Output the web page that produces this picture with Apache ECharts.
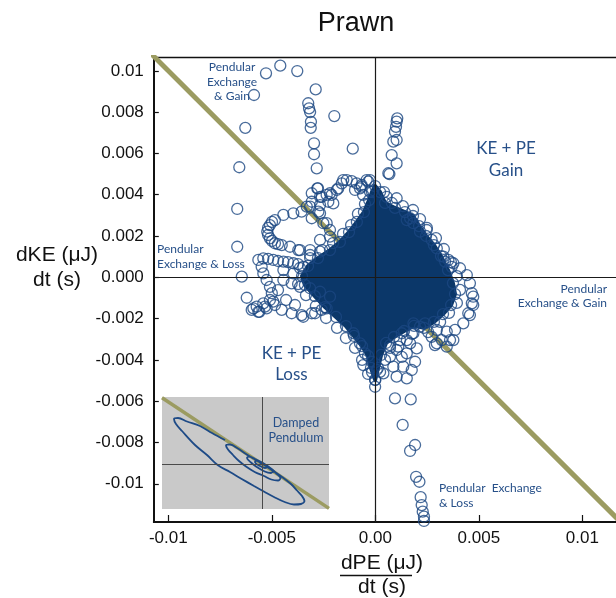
<!DOCTYPE html>
<html><head><meta charset="utf-8">
<script src="https://cdn.jsdelivr.net/npm/echarts@6/dist/echarts.min.js"></script>
<style>html,body{margin:0;padding:0;background:#fff}#c{width:616px;height:598px}</style>
</head><body><div id="c"></div><script>
// ---- tick labels ----
const xTickValues = [-0.01, -0.005, 0, 0.005, 0.01];
const xTickLabels = ['-0.01', '-0.005', '0.00', '0.005', '0.01'];
const yTickValues = [0.01, 0.008, 0.006, 0.004, 0.002, 0, -0.002, -0.004, -0.006, -0.008, -0.01];
const yTickLabels = ['0.01', '0.008', '0.006', '0.004', '0.002', '0.000', '-0.002', '-0.004', '-0.006', '-0.008', '-0.01'];

// ---- main data: [dPE/dt, dKE/dt] ----
const sparsePoints = [
  [-0.00528,0.00988],[-0.00459,0.01025],[-0.00377,0.00999],[-0.00586,0.00883],[-0.00288,0.00910],[-0.00324,0.00843],
  [-0.00320,0.00818],[-0.00315,0.00800],[-0.00311,0.00753],[-0.00312,0.00724],[-0.00198,0.00781],[-0.00628,0.00724],
  [-0.00296,0.00649],[-0.00296,0.00596],[-0.00109,0.00623],[-0.00283,0.00528],[-0.00657,0.00533],[-0.00280,0.00431],
  [-0.00667,0.00331],[-0.00667,0.00148],[-0.00645,0.00003],[-0.00621,-0.00099],[-0.00589,-0.00150],[-0.00560,-0.00167],[-0.00525,-0.00150],
  [0.00087,0.00657],[0.00079,0.00592],[0.00103,0.00552],[0.00063,0.00504],[0.00103,0.00383],
  [0.00106,0.00770],[0.00103,0.00754],[0.00100,0.00729],[0.00095,0.00705],[0.00103,0.00665],[0.00068,0.00500],[0.00055,0.00390],
  [-0.00026,0.00471],[-0.00066,0.00447]
];
const upperLeftLoops = [
  [-0.00211,0.00399],[-0.00186,0.00423],[-0.00162,0.00455],[-0.00138,0.00471],[-0.00114,0.00466],[-0.00090,0.00455],
  [-0.00066,0.00439],[-0.00034,0.00463],[-0.00026,0.00415],[-0.00059,0.00399],[-0.00098,0.00423],[-0.00277,0.00431],
  [-0.00259,0.00390],[-0.00227,0.00366],[-0.00307,0.00366],[-0.00155,0.00471],[-0.00074,0.00431],[-0.00179,0.00431],
  [-0.00219,0.00407],[-0.00267,0.00390],[-0.00307,0.00407],[-0.00267,0.00350],[-0.00203,0.00358],[-0.00235,0.00399],[-0.00042,0.00471],
  [-0.00315,0.00342],[-0.00267,0.00310],[-0.00235,0.00262],[-0.00219,0.00229],[-0.00331,0.00342],[-0.00356,0.00318],
  [-0.00396,0.00310],[-0.00444,0.00302],[-0.00485,0.00277],[-0.00509,0.00253],[-0.00522,0.00221],[-0.00509,0.00189],
  [-0.00485,0.00165],[-0.00452,0.00156],[-0.00412,0.00148],[-0.00364,0.00132],[-0.00315,0.00108],[-0.00267,0.00124],
  [-0.00499,0.00268],[-0.00518,0.00239],[-0.00518,0.00205],[-0.00499,0.00176],[-0.00470,0.00161],[-0.00275,0.00318],
  [-0.00307,0.00286],[-0.00251,0.00262],[-0.00219,0.00197],[-0.00267,0.00181],[-0.00315,0.00132],[-0.00372,0.00132]
];
const lowerLeftLoops = [
  [-0.00565,0.00084],[-0.00541,0.00092],[-0.00518,0.00089],[-0.00493,0.00084],[-0.00470,0.00079],[-0.00444,0.00076],
  [-0.00422,0.00074],[-0.00396,0.00068],[-0.00373,0.00064],[-0.00348,0.00051],[-0.00549,0.00051],[-0.00541,0.00019],
  [-0.00525,-0.00013],[-0.00509,-0.00046],[-0.00500,-0.00077],[-0.00509,-0.00110],[-0.00541,-0.00126],[-0.00573,-0.00142],
  [-0.00597,-0.00158],[-0.00565,-0.00167],[-0.00533,-0.00142],[-0.00485,-0.00134],[-0.00452,-0.00158],[-0.00404,-0.00174],
  [-0.00356,-0.00183],[-0.00307,-0.00174],[-0.00259,-0.00158],[-0.00444,-0.00013],[-0.00404,-0.00029],[-0.00364,-0.00046],
  [-0.00315,-0.00053],[-0.00267,-0.00070],[-0.00219,-0.00094],[-0.00396,0.00019],[-0.00444,0.00035],[-0.00493,-0.00118],
  [-0.00348,-0.00191],[-0.00291,-0.00174],[-0.00235,-0.00150],[-0.00431,-0.00110],[-0.00388,-0.00134],[-0.00470,-0.00062]
];
const rightLoops = [
  [0.00337,0.00076],[0.00377,0.00068],[0.00409,0.00044],[0.00442,0.00011],[0.00457,-0.00029],[0.00466,-0.00077],
  [0.00466,-0.00126],[0.00449,-0.00174],[0.00329,0.00100],[0.00353,0.00084],[0.00473,-0.00094],[0.00473,-0.00134],
  [0.00457,-0.00183],[0.00425,-0.00223],[0.00385,-0.00255],[0.00345,-0.00263],[0.00297,-0.00255],[0.00361,-0.00304],
  [0.00345,-0.00336],[0.00297,-0.00320],[0.00272,-0.00288],[0.00240,-0.00223],[0.00216,-0.00239],[0.00184,-0.00271],
  [0.00168,-0.00320],[0.00152,-0.00368],[0.00135,-0.00433],[0.00152,-0.00489],[0.00103,-0.00481],[0.00087,-0.00433],
  [0.00128,-0.00385],[0.00200,-0.00344],[0.00192,-0.00409],[0.00176,-0.00449],[0.00071,-0.00385],[0.00103,-0.00352],
  [0.00039,-0.00465],[-0.00001,-0.00530],[0.00000,-0.00497],[-0.00016,-0.00459],[-0.00106,-0.00271],[-0.00074,-0.00320],
  [-0.00050,-0.00368],[-0.00058,-0.00425],[-0.00017,-0.00409],[0.00007,-0.00449],[0.00321,-0.00304],[0.00377,-0.00304],
  [0.00288,-0.00328],[0.00152,-0.00304],[0.00111,-0.00336],[0.00071,-0.00328],[0.00128,-0.00271],[0.00184,-0.00223],
  [0.00369,0.00051],[0.00248,0.00229],[0.00272,0.00181],[0.00297,0.00140],[0.00168,0.00286],[0.00152,0.00277],
  [0.00184,0.00262],[0.00216,0.00221]
];
const lowerColumn = [
  [0.00095,-0.00586],[0.00171,-0.00591],[0.00132,-0.00715],[0.00192,-0.00812],[0.00168,-0.00841],[0.00197,-0.00966],
  [0.00213,-0.00990],[0.00219,-0.01065],[0.00224,-0.01103],[0.00229,-0.01135],[0.00235,-0.01159],[0.00235,-0.01180]
];
// points ringing the dense core
const coreRing = [
  [-0.00364,0.00045],[-0.00315,0.00093],[-0.00257,0.00132],[-0.00204,0.00166],[-0.00156,0.00210],[-0.00117,0.00253],
  [-0.00084,0.00307],[-0.00050,0.00355],
  [0.00042,0.00413],[0.00080,0.00360],[0.00133,0.00345],[0.00182,0.00326],[0.00216,0.00282],[0.00249,0.00239],
  [0.00293,0.00190],[0.00331,0.00137],[0.00365,0.00074],[0.00394,0.00006],[0.00409,-0.00061],[0.00394,-0.00124],
  [0.00356,-0.00172],[0.00313,-0.00216],[0.00255,-0.00265],
  [0.00177,-0.00274],[0.00119,-0.00304],[0.00071,-0.00342],[0.00047,-0.00400],[0.00023,-0.00458],[-0.00035,-0.00468],
  [-0.00064,-0.00400],[-0.00098,-0.00342],[-0.00142,-0.00294],[-0.00185,-0.00245],[-0.00238,-0.00197],[-0.00287,-0.00139],
  [-0.00335,-0.00086],[-0.00373,-0.00033]
];
// outline of the dense, fully overlapped core of points
const denseCoreOutline = [
  [-0.00001,0.00442],[0.00023,0.00413],[0.00047,0.00360],[0.00095,0.00336],[0.00143,0.00316],[0.00182,0.00297],
  [0.00211,0.00248],[0.00245,0.00200],[0.00283,0.00156],[0.00317,0.00103],[0.00351,0.00035],[0.00375,-0.00028],
  [0.00385,-0.00081],[0.00366,-0.00134],[0.00327,-0.00178],[0.00283,-0.00216],[0.00235,-0.00245],[0.00187,-0.00235],
  [0.00139,-0.00260],[0.00090,-0.00289],[0.00052,-0.00318],[0.00028,-0.00376],[0.00013,-0.00439],[-0.00001,-0.00497],
  [-0.00021,-0.00439],[-0.00035,-0.00381],[-0.00064,-0.00333],[-0.00103,-0.00284],[-0.00142,-0.00236],[-0.00190,-0.00192],
  [-0.00243,-0.00144],[-0.00292,-0.00091],[-0.00340,-0.00037],[-0.00354,0.00006],[-0.00325,0.00055],[-0.00277,0.00093],
  [-0.00219,0.00132],[-0.00171,0.00171],[-0.00127,0.00219],[-0.00089,0.00268],[-0.00055,0.00316],[-0.00030,0.00374],
  [-0.00016,0.00413]
];
// dKE = -dPE reference line
const exchangeLine = [[-0.012, 0.012], [0.012, -0.012]];

// ---- inset (damped pendulum), arbitrary units ----
const insetExchangeLine = [[-100, 66.3], [67, -44.4]];
const insetSpiral = [
  [-37,24],[-50,31],[-62,38],[-75,42.5],[-84,46],[-88,45],[-86,40],[-80,33],[-67,19],[-55,9],[-44,-1.3],[-32,-8],
  [-20.7,-14.7],[-8,-22],[2.7,-28],[12,-33],[22.7,-38],[32,-40.5],[39,-40],[42.5,-37],[40,-32],[35,-26.5],[29,-20],
  [18,-11.5],[6,-3.5],[-5,3.5],[-14,8.7],[-24,15.5],[-32,19.5],[-36,18.5],[-34,14.5],[-29,9],[-23,3],[-16,-2.5],
  [-7.3,-8],[2,-12],[9.3,-15.5],[16,-16.5],[18.5,-14],[14,-9],[9.3,-4.7],[1,1],[-7,5],[-13,7.5],[-15,6],[-11,1.5],
  [-6,-2.5],[2.7,-7.5],[9,-9],[11,-7],[6,-3],[0,1],[-6,3.5],[-7,2],[-3,-1.5],[3,-4],[5,-3],[1,0],[-2,1],[0,0]
];

// ---- build chart ----
function lookup(vals, labels) {
  return function (v) {
    for (let i = 0; i < vals.length; i++) if (Math.abs(vals[i] - v) < 1e-9) return labels[i];
    return '';
  };
}
const allPoints = [].concat(sparsePoints, upperLeftLoops, lowerLeftLoops, rightLoops, lowerColumn, coreRing);
const circleStyle = { color: 'rgba(0,0,0,0)', borderColor: '#1b4782', borderWidth: 1.3 };
const annColor = '#275089';
const annFont = 'Lato, "Noto Sans", sans-serif';
const axFont = '"Liberation Sans", Arial, sans-serif';

const chart = echarts.init(document.getElementById('c'), null, { renderer: 'canvas' });
chart.setOption({
  animation: false,
  backgroundColor: '#ffffff',
  grid: [
    { left: 153.8, right: -3.6, top: 57.4, bottom: 76, show: true, borderColor: '#111', borderWidth: 1.5,
      backgroundColor: 'rgba(0,0,0,0)', outerBoundsMode: 'none', containLabel: false },
    { left: 162, top: 397, width: 167, height: 112, show: true, borderWidth: 0, backgroundColor: '#c9c9c9',
      outerBoundsMode: 'none', containLabel: false }
  ],
  xAxis: [
    { type: 'value', gridIndex: 0, min: -0.0107, max: 0.0118,
      axisLine: { show: true, onZero: false, lineStyle: { color: '#111', width: 2 } },
      axisTick: { show: true, inside: true, length: 7, customValues: xTickValues, lineStyle: { color: '#111', width: 1.2 } },
      axisLabel: { show: true, customValues: xTickValues, formatter: lookup(xTickValues, xTickLabels),
        fontFamily: axFont, fontSize: 17, color: '#111', margin: 8 },
      splitLine: { show: false } },
    { type: 'value', gridIndex: 1, min: -100, max: 67, show: false, splitLine: { show: false } }
  ],
  yAxis: [
    { type: 'value', gridIndex: 0, min: -0.01185, max: 0.01065,
      axisLine: { show: true, onZero: false, lineStyle: { color: '#111', width: 2 } },
      axisTick: { show: true, inside: true, length: 5, customValues: yTickValues, lineStyle: { color: '#111', width: 1.2 } },
      axisLabel: { show: true, customValues: yTickValues, formatter: lookup(yTickValues, yTickLabels),
        fontFamily: axFont, fontSize: 17, color: '#111', margin: 10 },
      splitLine: { show: false } },
    { type: 'value', gridIndex: 1, min: -45, max: 67, show: false, splitLine: { show: false } }
  ],
  series: [
    { type: 'line', xAxisIndex: 0, yAxisIndex: 0, z: 1, silent: true, data: exchangeLine, symbol: 'none',
      lineStyle: { color: '#9b9b61', width: 5 }, clip: true },
    { type: 'custom', xAxisIndex: 0, yAxisIndex: 0, z: 2, silent: true, data: [[0, 0]],
      renderItem: function (params, api) {
        return { type: 'polygon', shape: { points: denseCoreOutline.map(function (p) { return api.coord(p); }) },
          style: { fill: '#0b3769', stroke: '#0b3769', lineWidth: 4, lineJoin: 'round' } };
      } },
    { type: 'scatter', xAxisIndex: 0, yAxisIndex: 0, z: 3, silent: true, data: denseCoreOutline,
      symbol: 'circle', symbolSize: 11, itemStyle: circleStyle },
    { type: 'scatter', xAxisIndex: 0, yAxisIndex: 0, z: 3, silent: true, data: allPoints,
      symbol: 'circle', symbolSize: 11, itemStyle: circleStyle,
      markLine: { silent: true, symbol: ['none', 'none'], label: { show: false },
        lineStyle: { color: '#1a1a1a', width: 1.2, type: 'solid' }, emphasis: { disabled: true },
        data: [{ xAxis: 0 }, { yAxis: 0 }] } },
    { type: 'line', xAxisIndex: 1, yAxisIndex: 1, z: 2, silent: true, data: insetExchangeLine, symbol: 'none',
      lineStyle: { color: '#9b9b61', width: 3.5 },
      markLine: { silent: true, symbol: ['none', 'none'], label: { show: false },
        lineStyle: { color: '#4a4a4a', width: 1, type: 'solid' }, data: [{ xAxis: 0 }, { yAxis: 0 }] } },
    { type: 'line', xAxisIndex: 1, yAxisIndex: 1, z: 3, silent: true, data: insetSpiral, symbol: 'none',
      smooth: 0.35, lineStyle: { color: '#1d4a86', width: 1.8 } }
  ],
  graphic: [
    { type: 'text', z: 100, style: { text: 'Prawn', x: 356, y: 24, textAlign: 'center', textVerticalAlign: 'middle',
      font: '27px ' + axFont, fill: '#111' } },
    { type: 'text', z: 100, style: { text: 'dKE (\u03bcJ)', x: 57, y: 255, textAlign: 'center', textVerticalAlign: 'middle',
      font: '21px ' + axFont, fill: '#111' } },
    { type: 'text', z: 100, style: { text: 'dt (s)', x: 57, y: 280, textAlign: 'center', textVerticalAlign: 'middle',
      font: '21px ' + axFont, fill: '#111' } },
    { type: 'text', z: 100, style: { text: 'dPE (\u03bcJ)', x: 382, y: 563, textAlign: 'center', textVerticalAlign: 'middle',
      font: '21px ' + axFont, fill: '#111' } },
    { type: 'line', z: 100, shape: { x1: 340, y1: 575.5, x2: 412, y2: 575.5 }, style: { stroke: '#111', lineWidth: 1.5 } },
    { type: 'text', z: 100, style: { text: 'dt (s)', x: 382, y: 587, textAlign: 'center', textVerticalAlign: 'middle',
      font: '21px ' + axFont, fill: '#111' } },
    { type: 'text', z: 100, style: { text: 'Pendular\nExchange\n& Gain', x: 232, y: 82, textAlign: 'center', textVerticalAlign: 'middle',
      font: '12px ' + annFont, fill: annColor, lineHeight: 14.5 } },
    { type: 'text', z: 100, style: { text: 'KE + PE\nGain', x: 506, y: 160, textAlign: 'center', textVerticalAlign: 'middle',
      font: '17px ' + annFont, fill: annColor, lineHeight: 22 } },
    { type: 'text', z: 100, style: { text: 'Pendular\nExchange & Loss', x: 157, y: 256.5, textAlign: 'left', textVerticalAlign: 'middle',
      font: '12px ' + annFont, fill: annColor, lineHeight: 15 } },
    { type: 'text', z: 100, style: { text: 'Pendular\nExchange & Gain', x: 607, y: 296, textAlign: 'right', textVerticalAlign: 'middle',
      font: '12px ' + annFont, fill: annColor, lineHeight: 14.5 } },
    { type: 'text', z: 100, style: { text: 'KE + PE\nLoss', x: 291.5, y: 364.5, textAlign: 'center', textVerticalAlign: 'middle',
      font: '17px ' + annFont, fill: annColor, lineHeight: 21 } },
    { type: 'text', z: 100, style: { text: 'Damped\nPendulum', x: 296, y: 430.5, textAlign: 'center', textVerticalAlign: 'middle',
      font: '12.5px ' + annFont, fill: annColor, lineHeight: 15 } },
    { type: 'text', z: 100, style: { text: 'Pendular  Exchange\n& Loss', x: 439, y: 495.5, textAlign: 'left', textVerticalAlign: 'middle',
      font: '12px ' + annFont, fill: annColor, lineHeight: 15 } }
  ]
});
</script></body></html>
